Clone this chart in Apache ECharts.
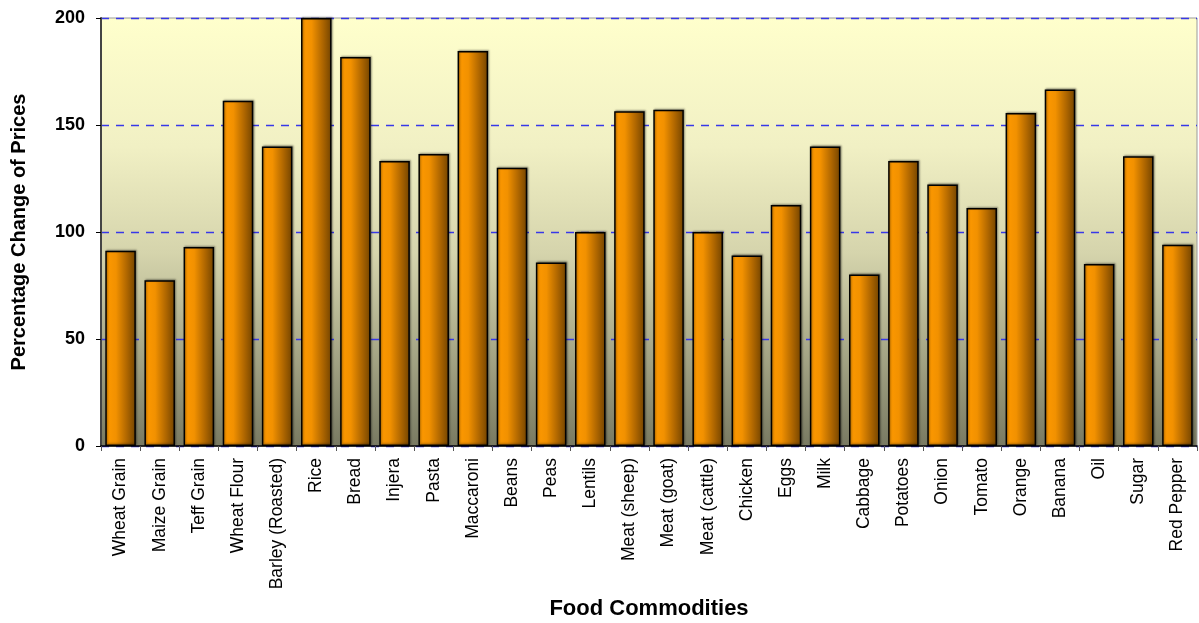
<!DOCTYPE html>
<html>
<head>
<meta charset="utf-8">
<script src="https://cdn.jsdelivr.net/npm/echarts@6/dist/echarts.min.js"></script>
<style>html,body{margin:0;padding:0;background:#fff;}#c{width:1199px;height:623px;}</style>
</head>
<body>
<div id="c"></div>
<script>
const categories = ["Wheat Grain","Maize Grain","Teff Grain","Wheat Flour","Barley (Roasted)","Rice","Bread","Injera","Pasta","Maccaroni","Beans","Peas","Lentils","Meat (sheep)","Meat (goat)","Meat (cattle)","Chicken","Eggs","Milk","Cabbage","Potatoes","Onion","Tomato","Orange","Banana","Oil","Sugar","Red Pepper"];
const priceChange = [91.2,77.5,93.0,161.3,140.0,200.0,181.8,133.2,136.4,184.6,130.0,85.8,100.0,156.4,157.1,100.0,89.0,112.6,140.0,80.1,133.2,122.2,111.2,155.6,166.6,85.0,135.4,94.0];
const yTicks = [0,50,100,150,200];

const chart = echarts.init(document.getElementById('c'));
const G = echarts.graphic.LinearGradient;
chart.setOption({
  animation: false,
  grid: {
    left: 101, right: 2, top: 18, bottom: 177,
    outerBoundsMode: 'none',
    containLabel: false,
    show: true,
    backgroundColor: new G(0,0,0,1,[
      {offset:0,color:'#FFFFCC'},
      {offset:0.3,color:'#F1F0C4'},
      {offset:0.55,color:'#D5D4AC'},
      {offset:1,color:'#797A62'}
    ]),
    borderColor: '#9a9a9a', borderWidth: 1
  },
  xAxis: {
    type: 'category',
    data: categories,
    axisLine: {lineStyle: {color: '#000', width: 1.5}},
    axisTick: {show: true, length: 5, lineStyle: {color: '#555'}},
    axisLabel: {
      rotate: 90, interval: 0, margin: 12,
      fontFamily: 'Liberation Sans, Arial, sans-serif', fontSize: 17.5, color: '#000'
    },
    name: 'Food Commodities', nameLocation: 'middle', nameGap: 152,
    nameTextStyle: {fontFamily: 'Liberation Sans, Arial, sans-serif', fontSize: 22, fontWeight: 'bold', color: '#000'}
  },
  yAxis: {
    type: 'value', min: yTicks[0], max: yTicks[yTicks.length-1], interval: 50,
    axisLine: {show: true, lineStyle: {color: '#444', width: 2}},
    axisTick: {show: true, length: 5, lineStyle: {color: '#000'}},
    axisLabel: {
      margin: 16, fontFamily: 'Liberation Sans, Arial, sans-serif', fontSize: 18,
      fontWeight: 'bold', color: '#000'
    },
    splitLine: {show: true, lineStyle: {color: '#3838E8', type: [8,7], width: 1.3}},
    name: 'Percentage Change of Prices', nameLocation: 'middle', nameGap: 72, nameRotate: 90,
    nameTextStyle: {fontFamily: 'Liberation Sans, Arial, sans-serif', fontSize: 20, fontWeight: 'bold', color: '#000'}
  },
  series: [{
    type: 'bar',
    data: priceChange,
    barCategoryGap: '22%',
    itemStyle: {
      color: new G(0,0,1,0,[
        {offset:0,color:'#FF9A00'},
        {offset:0.35,color:'#F29100'},
        {offset:0.7,color:'#B06700'},
        {offset:1,color:'#734400'}
      ]),
      borderColor: '#000', borderWidth: 1.5,
      shadowColor: 'rgba(0,0,0,0.35)', shadowBlur: 2, shadowOffsetX: 1, shadowOffsetY: -1
    }
  }]
});
</script>
</body>
</html>
